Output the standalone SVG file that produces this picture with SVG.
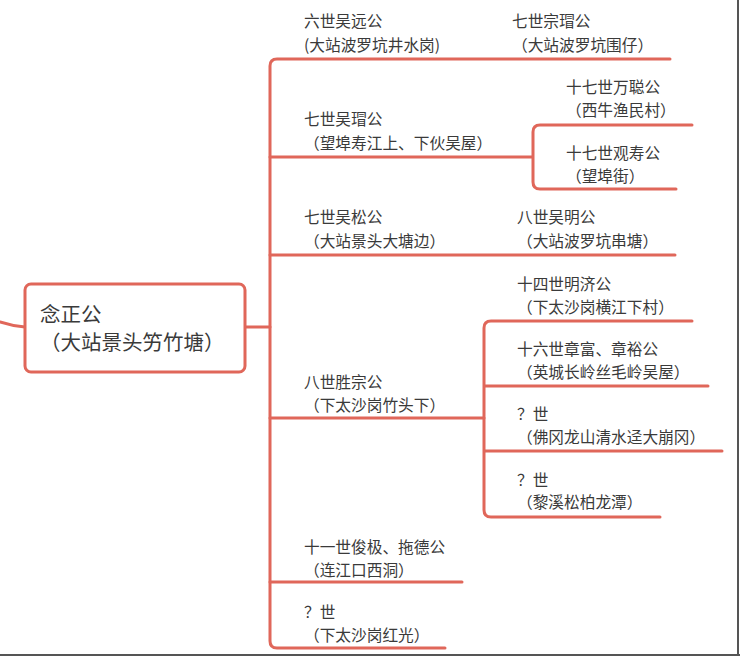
<svg xmlns="http://www.w3.org/2000/svg" width="740" height="656" viewBox="0 0 740 656">
<style>
.l{fill:none;stroke:#e0675a;stroke-width:3;stroke-linecap:round;stroke-linejoin:round}
text{font-family:"Noto Sans CJK SC","Noto Sans",sans-serif;font-size:15.7px;fill:#3a3a3a}
.r{font-size:20.5px}
</style>
<rect width="740" height="656" fill="#fff"/>
<line x1="738" y1="0" x2="738" y2="656" stroke="#555" stroke-width="2"/>
<line x1="0" y1="655" x2="740" y2="655" stroke="#555" stroke-width="2"/>
<g id="connectors">
<path class="l" d="M0 322 Q12 326 25 327"/>
<path class="l" d="M245 327 H270"/>
<path class="l" d="M270 66 Q270 59 277 59 H670 M270 66 V641 Q270 648 277 648 H445"/>
<path class="l" d="M270 157 H532 M270 255 H675 M270 418 H484 M270 582 H462"/>
<path class="l" d="M540 125 H692 M540 125 Q533 125 533 132 V182 Q533 189 540 189 H676"/>
<path class="l" d="M491 321 H692 M491 321 Q484 321 484 328 V510 Q484 517 491 517 H660 M484 386 H708 M484 451 H722"/>
</g>
<g id="root"><rect x="25" y="284" width="220" height="88" rx="6" fill="#fff" stroke="#e0675a" stroke-width="3"/>
<text class="r" x="40" y="322">念正公</text><text class="r" x="40" y="350">（大站景头竻竹塘）</text></g>
<g id="n1"><text x="304" y="27">六世吴远公</text><text x="304" y="51">(大站波罗坑井水岗)</text></g>
<g id="n2"><text x="512" y="27">七世宗瑁公</text><text x="512" y="51">（大站波罗坑围仔）</text></g>
<g id="n3"><text x="304" y="125">七世吴瑁公</text><text x="304" y="149">（望埠寿江上、下伙吴屋）</text></g>
<g id="n4"><text x="566" y="93">十七世万聪公</text><text x="566" y="116">（西牛渔民村）</text></g>
<g id="n5"><text x="566" y="159">十七世观寿公</text><text x="566" y="182">（望埠街）</text></g>
<g id="n6"><text x="304" y="223">七世吴松公</text><text x="304" y="247">（大站景头大塘边）</text></g>
<g id="n7"><text x="517" y="223">八世吴明公</text><text x="517" y="247">（大站波罗坑串塘）</text></g>
<g id="n8"><text x="304" y="388">八世胜宗公</text><text x="304" y="411">（下太沙岗竹头下）</text></g>
<g id="n9"><text x="517" y="290">十四世明济公</text><text x="517" y="313">（下太沙岗横江下村）</text></g>
<g id="n10"><text x="517" y="355">十六世章富、章裕公</text><text x="517" y="378">（英城长岭丝毛岭吴屋）</text></g>
<g id="n11"><text x="517" y="420">？世</text><text x="517" y="443">（佛冈龙山清水迳大崩冈）</text></g>
<g id="n12"><text x="517" y="486">？世</text><text x="517" y="508">（黎溪松柏龙潭）</text></g>
<g id="n13"><text x="304" y="553">十一世俊极、拖德公</text><text x="304" y="576">（连江口西洞）</text></g>
<g id="n14"><text x="304" y="618">？世</text><text x="304" y="641">（下太沙岗红光）</text></g>
</svg>
